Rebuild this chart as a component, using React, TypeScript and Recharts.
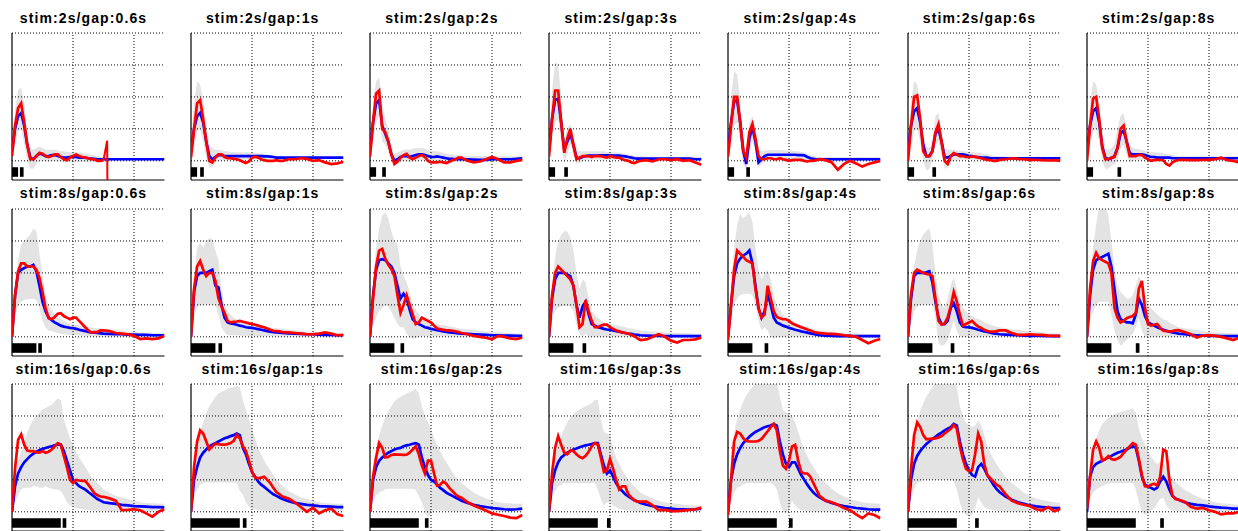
import React from "react";
import { ComposedChart, Line, Area, XAxis, YAxis, ReferenceLine, ReferenceArea } from "recharts";

// time grid (seconds)
const T = [0,1,2,3,4,5,6,7,8,9,10,11,12,13,14,15,16,17,18,19,20,21,22,23,24,25,26,27,28,29,30,32,34,36,38,40,42,44,46,48,50];

const STIMS = [2, 8, 16];
const STIM_LABELS = ["2", "8", "16"];
const GAPS = [0.6, 1, 2, 3, 4, 6, 8];
const GAP_LABELS = ["0.6", "1", "2", "3", "4", "6", "8"];
const PULSE = 1.2;
const X_DOMAIN = [0, 50];
const Y_DOMAIN = [-0.6, 4];
const X_GRID = [20, 40];
const Y_GRID = [0, 1, 2, 3, 4];

// ---------- row 1: stim 2s ----------
const red11 = [0.15,1.1,1.65,1.8,1.2,0.5,0.05,0.05,0.15,0.25,0.22, 0.15,0.12,0.15,0.2,0.2,0.12,0.05,0.02,0.1,0.15, 0.2,0.15,0.12,0.1,0.08,0.05,0.05,0.0,0.0,0.02, null,null,null,null,null,null,null,null,null,null];
const blue11 = [0.3,1.0,1.4,1.5,1.1,0.5,0.1,0.05,0.15,0.22,0.2, 0.15,0.15,0.18,0.18,0.15,0.12,0.1,0.1,0.12,0.13, 0.12,0.1,0.1,0.1,0.08,0.07,0.06,0.05,0.05,0.05, 0.05,0.05,0.05,0.05,0.05,0.05,0.05,0.05,0.05,0.05];
const hi11 = [0.5,1.6,2.2,2.3,1.8,0.9,0.4,0.35,0.4,0.45,0.4, 0.35,0.35,0.35,0.35,0.33,0.3,0.3,0.28,0.28,0.28, 0.28,0.26,0.25,0.24,0.22,0.2,0.18,0.15,0.12,0.1, 0.08,0.08,0.08,0.08,0.08,0.08,0.08,0.08,0.08,0.08];
const lo11 = [0.0,0.5,0.9,1.0,0.5,0.0,-0.25,-0.25,-0.1,0.0,0.0, 0.0,-0.02,0.0,0.0,0.0,-0.02,-0.05,-0.05,-0.03,-0.02, -0.02,-0.03,-0.03,-0.03,-0.03,-0.02,-0.02,-0.02,0.0,0.02, 0.02,0.02,0.02,0.02,0.02,0.02,0.02,0.02,0.02,0.02];
const SPIKE_T = [30, 31.2, 31.3];
const SPIKE_V = [0.02, 0.63, -1.2];

const red12 = [0.1,1.0,1.8,1.9,1.3,0.6,0.0,-0.05,0.1,0.2,0.2, 0.12,0.08,0.08,0.06,0.05,0.02,-0.03,-0.07,-0.02,0.1, 0.13,0.1,0.05,0.02,0.0,0.0,0.0,0.02,0.0,0.0, 0.05,0.05,0.08,0.06,0.0,0.02,-0.05,-0.1,-0.08,-0.03];
const blue12 = [0.3,1.0,1.4,1.5,1.2,0.6,0.15,0.05,0.12,0.18,0.18, 0.15,0.15,0.15,0.15,0.15,0.15,0.15,0.15,0.15,0.15, 0.15,0.15,0.15,0.14,0.14,0.13,0.12,0.1,0.1,0.1, 0.1,0.1,0.1,0.1,0.1,0.1,0.1,0.1,0.1,0.1];
const hi12 = [0.5,1.8,2.5,2.4,1.9,1.1,0.5,0.4,0.35,0.35,0.33, 0.3,0.3,0.28,0.28,0.27,0.27,0.26,0.26,0.25,0.25, 0.25,0.24,0.23,0.22,0.2,0.18,0.16,0.14,0.13,0.13, 0.12,0.12,0.12,0.12,0.12,0.12,0.12,0.12,0.12,0.12];
const lo12 = [0.0,0.4,0.9,1.0,0.6,0.1,-0.2,-0.2,-0.05,0.0,0.02, 0.02,0.02,0.02,0.03,0.03,0.03,0.03,0.03,0.04,0.04, 0.04,0.05,0.05,0.05,0.06,0.06,0.07,0.07,0.07,0.07, 0.07,0.07,0.07,0.07,0.07,0.07,0.07,0.07,0.07,0.07];

const red13 = [0.13,1.2,2.1,2.2,1.0,0.9,0.6,0.2,-0.1,-0.02,0.1, 0.18,0.22,0.1,0.05,0.1,0.15,0.18,0.12,0.0,-0.05, -0.05,-0.05,-0.03,-0.05,-0.07,-0.03,0.02,0.05,0.1,0.1, 0.0,-0.05,-0.02,0.05,0.12,0.05,-0.05,-0.05,0.0,0.03];
const blue13 = [0.3,1.2,1.8,1.9,1.1,0.85,0.6,0.2,0.0,0.05,0.12, 0.15,0.15,0.12,0.15,0.18,0.2,0.2,0.18,0.15,0.12, 0.12,0.14,0.12,0.1,0.08,0.06,0.06,0.05,0.05,0.05, 0.05,0.04,0.03,0.03,0.05,0.05,0.05,0.05,0.06,0.08];
const hi13 = [0.5,1.8,2.5,2.6,1.8,1.3,1.0,0.5,0.2,0.25,0.3, 0.35,0.35,0.35,0.38,0.4,0.4,0.4,0.38,0.35,0.32, 0.3,0.3,0.28,0.25,0.22,0.2,0.2,0.18,0.18,0.17, 0.15,0.15,0.15,0.15,0.15,0.14,0.14,0.14,0.14,0.14];
const lo13 = [0.0,0.6,1.2,1.4,0.6,0.5,0.3,0.0,-0.15,-0.1,-0.05, 0.0,0.0,-0.05,-0.02,0.0,0.0,0.02,0.0,-0.02,-0.03, -0.03,-0.02,-0.02,-0.02,-0.02,-0.02,-0.02,-0.02,-0.02,-0.02, -0.02,-0.02,-0.02,-0.02,-0.02,-0.02,-0.02,-0.02,-0.02,-0.02];

const red14 = [0.13,1.3,2.2,2.2,1.2,0.25,0.7,1.0,0.5,0.05,0.1, 0.15,0.15,0.15,0.12,0.15,0.15,0.15,0.12,0.1,0.15, 0.12,0.1,0.1,0.05,0.02,0.0,-0.05,-0.07,-0.03,0.0, 0.02,-0.02,0.05,0.05,0.02,0.05,0.0,0.02,-0.05,-0.12];
const blue14 = [0.3,1.3,1.9,1.95,1.2,0.35,0.6,0.85,0.5,0.1,0.08, 0.12,0.15,0.16,0.16,0.16,0.16,0.17,0.17,0.17,0.17, 0.16,0.16,0.16,0.15,0.14,0.12,0.1,0.08,0.07,0.07, 0.07,0.07,0.07,0.07,0.07,0.07,0.07,0.07,0.05,0.05];
const hi14 = [0.5,2.2,3.1,3.0,2.0,0.7,1.0,1.15,0.8,0.4,0.3, 0.3,0.3,0.3,0.3,0.3,0.3,0.3,0.3,0.28,0.28, 0.27,0.26,0.25,0.24,0.22,0.2,0.18,0.16,0.15,0.14, 0.13,0.13,0.13,0.13,0.13,0.13,0.13,0.13,0.13,0.13];
const lo14 = [0.0,0.6,1.2,1.3,0.6,-0.1,0.2,0.5,0.2,-0.1,-0.05, 0.0,0.02,0.03,0.03,0.03,0.03,0.03,0.03,0.03,0.03, 0.03,0.03,0.03,0.03,0.03,0.03,0.02,0.01,0.0,0.0, 0.0,0.0,0.0,0.0,0.0,0.0,0.0,0.0,0.0,0.0];

const red15 = [0.13,1.1,2.0,2.0,1.2,0.3,0.1,0.9,1.15,0.7,0.15, 0.05,0.05,0.08,0.08,0.05,0.05,0.08,0.05,0.03,0.0, 0.02,0.03,0.03,0.03,0.0,-0.02,0.0,0.0,0.02,0.05, 0.02,-0.05,-0.28,-0.1,0.0,-0.08,-0.18,-0.1,-0.05,0.0];
const blue15 = [0.3,1.2,1.85,1.9,1.2,0.3,-0.1,0.7,1.05,0.6,-0.05, 0.05,0.15,0.19,0.19,0.19,0.19,0.19,0.19,0.19,0.19, 0.19,0.19,0.18,0.18,0.17,0.12,0.08,0.06,0.05,0.05, 0.05,0.05,0.05,0.05,0.05,0.05,0.05,0.05,0.05,0.05];
const hi15 = [0.5,2.0,2.8,2.7,1.9,0.7,0.3,1.2,1.4,1.0,0.3, 0.3,0.32,0.33,0.33,0.33,0.33,0.33,0.33,0.32,0.32, 0.32,0.3,0.3,0.28,0.26,0.22,0.18,0.15,0.13,0.12, 0.12,0.12,0.12,0.12,0.12,0.12,0.12,0.12,0.12,0.12];
const lo15 = [0.0,0.5,1.1,1.2,0.6,-0.1,-0.3,0.3,0.6,0.3,-0.2, -0.1,0.0,0.05,0.05,0.05,0.05,0.05,0.05,0.05,0.05, 0.05,0.05,0.05,0.05,0.04,0.02,0.0,-0.01,-0.01,-0.01, -0.01,-0.01,-0.01,-0.01,-0.01,-0.01,-0.01,-0.01,-0.01,-0.01];

const red16 = [0.0,1.1,2.0,2.05,1.3,0.3,0.15,0.15,0.3,0.9,1.15, 0.6,0.0,-0.1,0.15,0.24,0.2,0.15,0.15,0.12,0.12, 0.13,0.13,0.1,0.08,0.05,0.03,0.02,0.0,0.0,0.03, 0.05,0.08,0.06,0.05,0.03,0.03,0.02,0.01,0.02,0.0];
const blue16 = [0.3,1.1,1.55,1.65,1.2,0.5,0.15,0.15,0.3,0.85,1.0, 0.6,0.12,0.1,0.15,0.2,0.2,0.2,0.2,0.18,0.15, 0.15,0.12,0.12,0.1,0.1,0.1,0.08,0.08,0.08,0.08, 0.08,0.08,0.08,0.08,0.08,0.08,0.08,0.08,0.08,0.08];
const hi16 = [0.5,1.8,2.5,2.4,1.7,0.8,0.45,0.4,0.6,1.4,1.5, 0.9,0.4,0.35,0.35,0.35,0.33,0.32,0.3,0.3,0.28, 0.28,0.26,0.25,0.24,0.22,0.2,0.18,0.16,0.15,0.14, 0.13,0.13,0.13,0.13,0.13,0.13,0.13,0.13,0.13,0.13];
const lo16 = [0.0,0.4,0.9,1.0,0.6,0.0,-0.3,-0.25,0.0,0.5,0.6, 0.2,-0.25,-0.2,-0.05,0.0,0.02,0.03,0.03,0.03,0.03, 0.03,0.03,0.03,0.03,0.03,0.03,0.03,0.02,0.02,0.02, 0.02,0.02,0.02,0.02,0.02,0.02,0.02,0.02,0.02,0.02];

const red17 = [0.0,1.1,1.95,2.0,1.3,0.4,0.05,0.05,0.1,0.12,0.4, 1.0,1.1,0.6,0.15,0.15,0.15,0.19,0.18,0.1,0.05, 0.0,0.02,0.03,0.03,0.02,-0.1,-0.15,-0.05,0.0,0.03, 0.03,0.02,0.02,0.03,0.03,0.05,0.1,0.02,0.0,-0.05];
const blue17 = [0.3,1.1,1.55,1.65,1.2,0.45,0.1,0.05,0.08,0.15,0.4, 0.85,0.95,0.6,0.25,0.2,0.2,0.2,0.2,0.18,0.15, 0.12,0.12,0.1,0.1,0.1,0.1,0.1,0.08,0.08,0.08, 0.08,0.08,0.08,0.08,0.08,0.08,0.08,0.08,0.08,0.08];
const hi17 = [0.5,1.8,2.5,2.4,1.8,0.9,0.4,0.35,0.4,0.5,1.0, 1.4,1.5,1.0,0.5,0.4,0.38,0.36,0.34,0.32,0.3, 0.28,0.27,0.26,0.25,0.24,0.22,0.2,0.18,0.16,0.15, 0.14,0.14,0.14,0.14,0.14,0.14,0.14,0.14,0.14,0.14];
const lo17 = [0.0,0.4,0.9,1.0,0.6,0.0,-0.25,-0.25,-0.15,-0.1,0.0, 0.4,0.5,0.2,-0.05,0.0,0.02,0.02,0.03,0.03,0.03, 0.03,0.03,0.03,0.03,0.03,0.03,0.03,0.02,0.02,0.02, 0.02,0.02,0.02,0.02,0.02,0.02,0.02,0.02,0.02,0.02];

// ---------- row 2: stim 8s ----------
const red21 = [0.0,1.3,2.05,2.3,2.3,2.2,2.2,2.2,2.1,1.85,1.4, 0.9,0.58,0.55,0.62,0.72,0.74,0.65,0.6,0.55,0.6, 0.6,0.5,0.4,0.3,0.2,0.13,0.15,0.15,0.2,0.2, 0.18,0.12,0.1,0.08,0.03,-0.07,-0.05,-0.07,-0.05,0.03];
const blue21 = [0.0,1.3,2.0,2.1,2.15,2.2,2.2,2.25,2.05,1.6,1.1, 0.8,0.6,0.52,0.45,0.4,0.35,0.32,0.3,0.28,0.27, 0.25,0.22,0.2,0.18,0.15,0.14,0.13,0.12,0.11,0.1, 0.09,0.08,0.08,0.07,0.07,0.06,0.06,0.05,0.05,0.05];
const hi21 = [0.1,1.6,2.4,2.9,3.0,3.1,3.2,3.4,3.3,2.6,1.9, 1.3,1.0,0.85,0.7,0.62,0.55,0.5,0.45,0.42,0.4, 0.38,0.36,0.34,0.32,0.3,0.29,0.28,0.27,0.26,0.25, 0.23,0.21,0.19,0.17,0.15,0.14,0.13,0.13,0.12,0.12];
const lo21 = [0.0,0.6,1.0,1.1,1.15,1.18,1.18,1.18,1.15,0.9,0.5, 0.3,0.2,0.18,0.15,0.12,0.1,0.08,0.07,0.06,0.05, 0.05,0.04,0.03,0.03,0.02,0.02,0.01,0.01,0.0,0.0, 0.0,0.0,0.0,-0.01,-0.01,-0.01,-0.02,-0.02,-0.02,-0.02];

const red22 = [0.0,1.5,2.2,2.37,2.1,1.9,2.0,2.0,1.75,1.2,0.95, 0.75,0.5,0.45,0.47,0.48,0.5,0.47,0.45,0.42,0.4, 0.38,0.35,0.32,0.3,0.26,0.22,0.19,0.18,0.17,0.15, 0.14,0.12,0.1,0.08,0.08,0.1,0.14,0.1,0.05,0.06];
const blue22 = [0.0,1.4,1.9,2.0,2.0,2.0,2.05,2.1,1.6,1.55,1.0, 0.6,0.45,0.42,0.4,0.38,0.35,0.33,0.3,0.29,0.28, 0.26,0.24,0.22,0.2,0.18,0.16,0.15,0.14,0.13,0.12, 0.11,0.1,0.09,0.08,0.08,0.07,0.06,0.06,0.05,0.05];
const hi22 = [0.2,1.7,2.8,2.95,2.8,3.0,3.1,3.05,2.7,2.4,1.5, 1.0,0.8,0.7,0.6,0.55,0.5,0.47,0.44,0.42,0.4, 0.38,0.36,0.34,0.32,0.3,0.29,0.28,0.27,0.26,0.25, 0.23,0.21,0.19,0.17,0.15,0.14,0.13,0.12,0.11,0.1];
const lo22 = [0.0,0.6,0.9,1.0,1.0,1.0,1.0,1.0,1.0,0.7,0.3, 0.15,0.05,0.05,0.05,0.05,0.04,0.03,0.03,0.02,0.02, 0.02,0.02,0.02,0.02,0.02,0.02,0.02,0.01,0.01,0.01, 0.0,0.0,0.0,0.0,0.0,0.0,0.0,0.0,0.0,0.0];

const red23 = [0.0,1.2,2.2,2.7,2.75,2.45,2.25,2.12,1.9,1.3,0.75, 1.0,1.3,1.0,0.7,0.4,0.45,0.6,0.55,0.5,0.45, 0.35,0.26,0.24,0.22,0.2,0.2,0.19,0.17,0.15,0.12, 0.08,0.03,0.0,-0.03,-0.08,0.03,0.0,-0.05,-0.07,-0.02];
const blue23 = [0.0,1.3,2.1,2.4,2.43,2.4,2.3,2.2,2.0,1.6,1.2, 1.35,1.2,0.85,0.55,0.45,0.4,0.35,0.3,0.28,0.25, 0.23,0.21,0.19,0.17,0.15,0.14,0.13,0.12,0.11,0.1, 0.09,0.08,0.07,0.06,0.05,0.05,0.04,0.04,0.03,0.03];
const hi23 = [0.2,1.7,2.8,3.4,3.8,3.9,3.7,3.3,3.0,2.9,2.2, 1.9,1.7,1.4,1.0,0.85,0.7,0.62,0.55,0.5,0.45, 0.42,0.4,0.38,0.36,0.35,0.33,0.31,0.29,0.27,0.25, 0.23,0.21,0.19,0.17,0.15,0.14,0.13,0.12,0.11,0.1];
const lo23 = [0.0,0.3,0.6,0.8,0.9,1.0,0.95,0.8,0.6,0.4,0.3, 0.3,0.1,0.0,-0.05,-0.05,0.0,0.02,0.02,0.02,0.02, 0.02,0.02,0.02,0.01,0.01,0.01,0.01,0.0,0.0,0.0, 0.0,0.0,0.0,0.0,0.0,0.0,0.0,0.0,0.0,0.0];

const red24 = [0.0,1.3,2.0,2.2,2.1,2.0,1.9,1.8,1.6,1.0,0.3, 0.4,1.15,0.8,0.5,0.3,0.3,0.35,0.38,0.38,0.3, 0.25,0.2,0.17,0.14,0.12,0.1,0.06,0.02,-0.05,-0.1, -0.08,0.0,0.08,0.0,-0.12,-0.18,-0.1,-0.1,-0.08,-0.02];
const blue24 = [0.0,1.2,1.8,2.0,2.0,2.0,1.95,1.9,1.6,1.0,0.6, 0.95,1.1,0.7,0.4,0.35,0.3,0.28,0.25,0.23,0.22, 0.2,0.18,0.16,0.14,0.12,0.1,0.09,0.07,0.06,0.05, 0.04,0.03,0.03,0.02,0.02,0.02,0.02,0.02,0.02,0.02];
const hi24 = [0.2,1.5,2.5,3.0,3.2,3.3,3.3,3.1,2.7,2.0,1.5, 1.8,1.7,1.2,0.8,0.7,0.6,0.52,0.45,0.42,0.4, 0.38,0.36,0.34,0.32,0.3,0.28,0.26,0.24,0.22,0.2, 0.18,0.16,0.15,0.14,0.12,0.12,0.11,0.11,0.1,0.1];
const lo24 = [0.0,0.5,0.8,0.9,0.95,0.97,0.97,0.95,0.8,0.4,0.1, 0.0,0.1,0.0,0.0,0.0,0.0,0.0,0.0,0.0,0.0, 0.0,0.0,0.0,0.0,0.0,0.0,0.0,0.0,0.0,0.0, -0.01,-0.01,-0.01,-0.01,-0.01,-0.01,-0.01,-0.01,-0.01,-0.01];

const red25 = [-0.1,1.0,2.1,2.7,2.6,2.5,2.4,2.35,2.3,1.5,0.9, 0.6,0.7,1.6,1.2,0.8,0.62,0.58,0.55,0.55,0.5, 0.42,0.38,0.34,0.3,0.27,0.23,0.2,0.16,0.13,0.12, 0.1,0.09,0.08,0.05,0.03,0.0,-0.1,-0.2,-0.12,-0.07];
const blue25 = [0.0,1.0,1.9,2.3,2.45,2.55,2.6,2.7,2.3,1.6,0.9, 0.6,0.8,1.35,1.0,0.6,0.45,0.4,0.35,0.32,0.28, 0.25,0.22,0.2,0.17,0.15,0.13,0.11,0.09,0.07,0.05, 0.04,0.03,0.02,0.02,0.02,0.02,0.02,0.02,0.02,0.02];
const hi25 = [0.2,1.6,2.8,3.5,3.85,3.7,3.8,3.9,3.6,2.8,2.1, 1.8,2.0,2.1,1.8,1.3,1.0,0.85,0.7,0.62,0.55, 0.5,0.46,0.42,0.38,0.35,0.32,0.28,0.25,0.22,0.2, 0.18,0.16,0.14,0.13,0.12,0.11,0.1,0.09,0.08,0.08];
const lo25 = [0.0,0.5,1.0,1.2,1.3,1.35,1.35,1.35,1.3,1.0,0.5, 0.2,0.3,0.2,0.0,-0.05,0.0,0.0,0.0,0.0,0.0, 0.0,0.0,0.0,0.0,0.0,0.0,0.0,0.0,0.0,0.0, -0.01,-0.01,-0.01,-0.01,-0.01,-0.01,-0.01,-0.01,-0.01,-0.01];

const red26 = [0.0,1.35,2.0,2.1,2.05,2.0,1.97,1.95,1.9,1.2,0.5, 0.38,0.42,0.6,0.95,1.4,1.1,0.7,0.35,0.4,0.45, 0.5,0.4,0.32,0.28,0.22,0.18,0.16,0.16,0.18,0.2, 0.2,0.12,0.06,0.06,0.08,0.06,0.06,0.04,0.03,0.03];
const blue26 = [0.0,1.2,1.9,2.0,2.0,2.0,2.02,2.05,1.7,1.1,0.6, 0.4,0.4,0.5,0.9,1.05,0.8,0.45,0.32,0.3,0.3, 0.28,0.25,0.22,0.2,0.17,0.15,0.13,0.11,0.1,0.08, 0.07,0.06,0.05,0.04,0.03,0.03,0.03,0.02,0.02,0.02];
const hi26 = [0.2,1.4,2.2,2.7,3.0,3.2,3.3,3.4,2.9,2.0,1.3, 1.0,0.9,1.2,1.6,1.85,1.5,1.1,0.9,0.8,0.7, 0.65,0.6,0.56,0.52,0.45,0.42,0.38,0.35,0.32,0.3, 0.27,0.24,0.22,0.2,0.18,0.16,0.14,0.12,0.11,0.1];
const lo26 = [0.0,0.4,0.8,0.95,1.0,1.0,1.0,1.0,1.0,0.6,-0.2, -0.28,-0.25,-0.1,0.2,0.5,0.2,0.0,0.0,0.0,0.0, 0.0,0.0,0.0,0.0,0.0,0.0,0.0,0.0,0.0,0.0, 0.0,0.0,0.0,0.0,0.0,0.0,0.0,0.0,0.0,0.0];

const red27 = [0.0,1.5,2.37,2.63,2.45,2.4,2.35,2.3,2.0,0.9,0.6, 0.45,0.5,0.58,0.62,0.65,0.75,1.5,1.75,0.9,0.4, 0.35,0.38,0.4,0.28,0.19,0.18,0.17,0.18,0.2,0.21, 0.15,0.08,-0.02,0.04,0.05,0.03,0.0,-0.05,-0.1,-0.02];
const blue27 = [0.0,1.3,2.1,2.4,2.45,2.5,2.55,2.6,2.2,1.5,0.8, 0.55,0.5,0.45,0.45,0.42,0.7,1.2,1.0,0.65,0.45, 0.4,0.35,0.3,0.26,0.22,0.19,0.16,0.14,0.12,0.1, 0.08,0.06,0.05,0.04,0.03,0.03,0.02,0.02,0.02,0.02];
const hi27 = [0.2,1.7,2.8,3.5,4.1,4.2,4.1,3.8,3.0,2.2,1.6, 1.4,1.3,1.2,1.2,1.3,1.6,1.9,1.7,1.3,1.0, 0.9,0.8,0.7,0.62,0.55,0.5,0.45,0.4,0.35,0.3, 0.27,0.24,0.21,0.18,0.15,0.14,0.13,0.12,0.11,0.1];
const lo27 = [0.0,0.5,0.8,1.0,1.1,1.1,1.1,1.1,0.7,0.2,-0.1, -0.28,-0.2,-0.1,0.0,0.1,0.3,0.6,0.2,0.0,0.0, 0.0,0.0,0.0,0.0,0.0,0.0,0.0,0.0,0.0,0.0, 0.0,0.0,0.0,0.0,0.0,0.0,0.0,0.0,0.0,0.0];

// ---------- row 3: stim 16s ----------
const red31 = [0.0,1.35,2.25,2.42,2.1,1.92,1.9,1.9,1.86,1.85,1.9, 1.85,1.88,1.95,2.05,2.15,2.1,1.75,1.4,1.0,0.9, 1.0,0.98,0.97,0.97,0.85,0.72,0.58,0.52,0.48,0.47, 0.42,0.35,0.05,0.06,0.08,0.05,-0.05,-0.15,0.0,0.08];
const blue31 = [0.0,0.8,1.2,1.4,1.55,1.65,1.75,1.82,1.88,1.93,1.97, 2.0,2.03,2.05,2.08,2.1,2.1,1.9,1.6,1.3,1.0, 0.9,0.8,0.75,0.7,0.62,0.55,0.47,0.4,0.35,0.3, 0.27,0.25,0.22,0.2,0.18,0.17,0.16,0.15,0.15,0.14];
const hi31 = [0.1,1.2,1.6,1.9,2.2,2.5,2.7,2.9,3.0,3.1,3.2, 3.25,3.3,3.35,3.45,3.55,3.5,2.9,2.6,2.3,2.1, 1.9,1.7,1.55,1.4,1.25,1.1,1.0,0.9,0.8,0.7, 0.6,0.5,0.45,0.4,0.35,0.3,0.28,0.27,0.26,0.25];
const lo31 = [0.0,0.3,0.5,0.7,0.75,0.75,0.75,0.8,0.8,0.75,0.75, 0.8,0.75,0.72,0.7,0.7,0.65,0.5,0.3,0.2,0.15, 0.12,0.1,0.08,0.07,0.05,0.04,0.03,0.03,0.02,0.02, 0.0,0.0,0.0,0.0,0.0,0.0,0.0,0.0,0.0,0.0];

const red32 = [0.0,1.4,2.2,2.55,2.45,2.2,1.95,2.05,2.13,2.12,2.1, 2.1,2.12,2.15,2.22,2.4,2.3,2.05,1.9,1.6,1.25, 1.08,1.05,1.07,1.1,1.0,0.9,0.75,0.62,0.55,0.48, 0.42,0.3,0.15,0.0,0.13,-0.05,0.05,0.1,-0.08,-0.13];
const blue32 = [0.0,1.0,1.4,1.7,1.85,1.95,2.05,2.1,2.15,2.2,2.25, 2.3,2.33,2.37,2.4,2.45,2.4,2.0,1.8,1.5,1.25, 1.1,0.95,0.85,0.78,0.7,0.62,0.55,0.5,0.45,0.4, 0.33,0.28,0.25,0.22,0.2,0.18,0.17,0.16,0.15,0.15];
const hi32 = [0.2,1.5,2.1,2.5,2.8,3.1,3.3,3.45,3.6,3.7,3.75, 3.8,3.85,3.9,3.9,3.95,3.9,3.5,3.2,2.9,2.6, 2.3,2.0,1.8,1.6,1.45,1.3,1.15,1.0,0.9,0.8, 0.65,0.55,0.45,0.4,0.35,0.3,0.28,0.26,0.25,0.25];
const lo32 = [0.0,0.4,0.7,0.85,0.9,0.92,0.92,0.92,0.92,0.92,0.92, 0.92,0.92,0.92,0.92,0.92,0.65,0.55,0.3,0.15,0.1, 0.08,0.05,0.04,0.03,0.02,0.02,0.01,0.01,0.0,0.0, 0.0,0.0,0.0,0.0,0.0,0.0,0.0,0.0,0.0,0.0];

const red33 = [0.0,1.1,1.7,2.15,2.0,1.7,1.72,1.78,1.8,1.79,1.79, 1.78,1.79,1.85,1.95,2.05,1.8,1.45,1.2,1.6,1.6, 1.2,0.82,0.85,0.95,0.88,0.75,0.65,0.55,0.48,0.44, 0.3,0.2,0.12,0.04,-0.05,-0.09,-0.13,-0.18,-0.2,-0.1];
const blue33 = [0.0,1.0,1.4,1.6,1.7,1.78,1.85,1.9,1.95,1.98,2.0, 2.05,2.08,2.1,2.13,2.15,2.1,1.7,1.4,1.15,1.0, 0.95,0.85,0.75,0.68,0.6,0.55,0.5,0.45,0.4,0.35, 0.28,0.22,0.18,0.15,0.12,0.1,0.08,0.07,0.08,0.1];
const hi33 = [0.2,1.4,2.0,2.4,2.7,2.95,3.15,3.3,3.45,3.55,3.6, 3.65,3.7,3.75,3.8,3.85,3.7,3.3,3.0,2.8,2.6, 2.3,2.1,1.9,1.7,1.55,1.4,1.25,1.1,1.0,0.9, 0.75,0.6,0.5,0.42,0.36,0.3,0.28,0.26,0.25,0.25];
const lo33 = [0.0,0.3,0.5,0.6,0.65,0.7,0.72,0.72,0.72,0.72,0.72, 0.72,0.72,0.72,0.72,0.68,0.5,0.3,0.0,-0.15,-0.05, 0.05,0.05,0.04,0.03,0.02,0.02,0.01,0.01,0.0,0.0, 0.0,0.0,0.0,0.0,0.0,0.0,0.0,0.0,0.0,0.0];

const red34 = [0.0,1.2,2.0,2.37,2.1,1.85,1.8,1.92,1.9,1.8,1.72, 1.68,1.75,1.88,2.05,2.15,2.1,1.7,1.25,1.3,1.65, 1.35,1.0,0.7,0.8,0.8,0.55,0.45,0.36,0.32,0.32, 0.32,0.2,0.05,0.06,0.02,0.02,0.04,0.06,0.08,0.13];
const blue34 = [0.0,0.9,1.3,1.55,1.7,1.78,1.85,1.9,1.95,1.98,2.02, 2.05,2.08,2.1,2.12,2.15,2.15,1.8,1.45,1.2,1.3, 1.1,0.9,0.75,0.65,0.55,0.48,0.42,0.36,0.32,0.28, 0.22,0.18,0.15,0.12,0.1,0.08,0.08,0.07,0.08,0.1];
const hi34 = [0.2,1.2,1.8,2.1,2.4,2.6,2.8,2.95,3.05,3.15,3.2, 3.25,3.3,3.35,3.4,3.5,3.5,2.9,2.5,2.45,2.4, 2.0,1.7,1.5,1.3,1.15,1.0,0.9,0.8,0.7,0.6, 0.5,0.42,0.35,0.3,0.27,0.25,0.22,0.2,0.2,0.2];
const lo34 = [0.0,0.4,0.65,0.8,0.85,0.9,0.9,0.9,0.9,0.9,0.9, 0.9,0.9,0.9,0.9,0.9,0.7,0.4,0.2,0.3,0.3, 0.2,0.15,0.1,0.08,0.05,0.04,0.03,0.02,0.01,0.0, 0.0,0.0,0.0,0.0,0.0,0.0,0.0,0.0,0.0,0.0];

const red35 = [-0.1,1.0,2.2,2.5,2.45,2.3,2.22,2.2,2.2,2.2,2.22, 2.28,2.4,2.52,2.65,2.75,2.55,1.9,1.45,1.35,1.6, 2.05,2.1,1.6,1.25,1.2,1.2,1.1,0.9,0.7,0.5, 0.35,0.3,0.22,0.12,0.05,-0.08,-0.2,-0.05,-0.1,-0.2];
const blue35 = [0.0,1.0,1.5,1.8,2.0,2.15,2.25,2.35,2.43,2.5,2.55, 2.6,2.65,2.68,2.7,2.75,2.7,2.2,1.8,1.5,1.4, 1.55,1.55,1.35,1.15,1.0,0.85,0.72,0.6,0.52,0.45, 0.35,0.28,0.22,0.18,0.15,0.12,0.1,0.08,0.07,0.07];
const hi35 = [0.2,1.8,2.5,2.9,3.2,3.45,3.65,3.8,3.9,4.1,4.1, 4.1,4.1,4.1,4.1,4.1,4.1,3.6,3.2,3.1,3.1, 3.0,2.8,2.5,2.2,1.95,1.75,1.55,1.4,1.25,1.1, 0.9,0.72,0.58,0.48,0.4,0.35,0.3,0.28,0.26,0.25];
const lo35 = [0.0,0.3,0.6,0.75,0.8,0.85,0.9,0.9,0.9,0.9,0.9, 0.9,0.9,0.9,0.9,0.85,0.7,0.3,0.0,-0.05,0.05, 0.35,0.2,0.1,0.05,0.03,0.02,0.02,0.01,0.0,0.0, 0.0,0.0,0.0,0.0,0.0,0.0,0.0,0.0,0.0,0.0];

const red36 = [0.0,1.35,2.4,2.8,2.65,2.4,2.27,2.28,2.29,2.3,2.33, 2.37,2.45,2.52,2.6,2.72,2.6,2.05,1.65,1.35,1.27, 1.3,1.8,2.45,2.2,1.5,1.15,1.05,0.95,0.85,0.8, 0.55,0.35,0.27,0.22,0.18,0.08,0.05,0.15,0.02,0.1];
const blue36 = [0.0,1.0,1.5,1.75,1.9,2.02,2.12,2.2,2.28,2.35,2.42, 2.48,2.55,2.6,2.65,2.75,2.7,2.2,1.8,1.5,1.3, 1.15,1.1,1.4,1.5,1.35,1.15,1.0,0.85,0.72,0.62, 0.48,0.38,0.3,0.25,0.2,0.17,0.15,0.13,0.12,0.12];
const hi36 = [0.2,1.7,2.4,2.8,3.15,3.4,3.6,3.75,3.9,4.1,4.1, 4.1,4.1,4.1,4.1,4.1,3.9,3.3,3.0,2.8,2.7, 2.65,2.7,2.85,2.7,2.4,2.1,1.85,1.65,1.5,1.35, 1.1,0.9,0.75,0.6,0.5,0.42,0.37,0.33,0.3,0.28];
const lo36 = [0.0,0.4,0.7,0.9,0.95,1.0,1.0,1.0,1.0,1.0,1.0, 1.0,1.0,1.0,1.0,0.95,0.7,0.3,0.0,-0.1,-0.15, -0.1,0.1,0.45,0.3,0.15,0.1,0.07,0.05,0.03,0.02, 0.0,0.0,0.0,0.0,0.0,0.0,0.0,0.0,0.0,0.0];

const red37 = [0.1,1.1,1.95,2.2,2.0,1.6,1.65,1.74,1.65,1.63,1.67, 1.72,1.84,1.95,2.05,2.15,2.1,1.65,1.15,0.8,0.79, 0.85,0.88,0.82,1.1,1.95,1.9,1.0,0.5,0.4,0.38, 0.32,0.16,0.1,0.12,0.05,0.0,-0.08,-0.05,-0.05,0.0];
const blue37 = [0.0,1.1,1.4,1.5,1.55,1.6,1.65,1.7,1.75,1.8,1.85, 1.88,1.92,1.95,2.0,2.05,2.0,1.6,1.1,0.85,0.8, 0.75,0.7,0.75,0.95,1.1,0.95,0.7,0.5,0.42,0.38, 0.3,0.25,0.22,0.2,0.17,0.15,0.13,0.12,0.1,0.1];
const hi37 = [0.2,1.5,2.0,2.3,2.55,2.75,2.85,2.95,3.0,3.05,3.1, 3.12,3.15,3.18,3.2,3.24,3.1,2.6,2.3,2.1,1.9, 1.75,1.6,1.5,1.55,1.5,1.4,1.2,1.05,0.95,0.85, 0.7,0.58,0.48,0.4,0.35,0.3,0.27,0.25,0.24,0.22];
const lo37 = [0.0,0.4,0.6,0.7,0.75,0.8,0.85,0.88,0.9,0.9,0.9, 0.9,0.9,0.9,0.9,0.9,0.7,0.3,0.0,-0.1,-0.05, 0.05,0.1,0.25,0.4,0.45,0.2,0.1,0.05,0.03,0.02, 0.0,0.0,0.0,0.0,0.0,0.0,0.0,0.0,0.0,0.0];

type Series = { r: (number | null)[]; b: number[]; l: number[]; u: number[] };

const PANELS: Series[][] = [
  [
    { r: red11, b: blue11, l: lo11, u: hi11 },
    { r: red12, b: blue12, l: lo12, u: hi12 },
    { r: red13, b: blue13, l: lo13, u: hi13 },
    { r: red14, b: blue14, l: lo14, u: hi14 },
    { r: red15, b: blue15, l: lo15, u: hi15 },
    { r: red16, b: blue16, l: lo16, u: hi16 },
    { r: red17, b: blue17, l: lo17, u: hi17 },
  ],
  [
    { r: red21, b: blue21, l: lo21, u: hi21 },
    { r: red22, b: blue22, l: lo22, u: hi22 },
    { r: red23, b: blue23, l: lo23, u: hi23 },
    { r: red24, b: blue24, l: lo24, u: hi24 },
    { r: red25, b: blue25, l: lo25, u: hi25 },
    { r: red26, b: blue26, l: lo26, u: hi26 },
    { r: red27, b: blue27, l: lo27, u: hi27 },
  ],
  [
    { r: red31, b: blue31, l: lo31, u: hi31 },
    { r: red32, b: blue32, l: lo32, u: hi32 },
    { r: red33, b: blue33, l: lo33, u: hi33 },
    { r: red34, b: blue34, l: lo34, u: hi34 },
    { r: red35, b: blue35, l: lo35, u: hi35 },
    { r: red36, b: blue36, l: lo36, u: hi36 },
    { r: red37, b: blue37, l: lo37, u: hi37 },
  ],
];

const PLOT_W = 152.5;
const PLOT_H = 147;
const PAD = 2;
const colLeft = (c: number) => 11.5 + 179.2 * c;
const rowTop = (r: number) => 33 + 175.6 * r;

function Panel({ row, col }: { row: number; col: number }) {
  const p = PANELS[row][col];
  const data = T.map((t, i) => ({ t, r: p.r[i], b: p.b[i], band: [p.l[i], p.u[i]] }));
  const stim = STIMS[row];
  const gap = GAPS[col];
  const spike = row === 0 && col === 0 ? SPIKE_T.map((t, i) => ({ t, v: SPIKE_V[i] })) : null;
  return (
    <div style={{ position: "absolute", left: colLeft(col) - PAD, top: rowTop(row) - PAD }}>
      <ComposedChart
        width={PLOT_W + 2 * PAD}
        height={PLOT_H + 2 * PAD}
        data={data}
        margin={{ top: PAD, right: PAD, bottom: PAD, left: PAD }}
      >
        <XAxis
          type="number"
          dataKey="t"
          domain={X_DOMAIN}
          ticks={[0, 20, 40]}
          tick={false}
          tickLine={false}
          axisLine={false}
          height={0}
          allowDataOverflow
        />
        <YAxis
          type="number"
          domain={Y_DOMAIN}
          ticks={Y_GRID}
          tick={false}
          tickLine={false}
          axisLine={false}
          width={0}
          allowDataOverflow
        />
        <Area
          type="linear"
          dataKey="band"
          fill="#e3e3e3"
          fillOpacity={1}
          stroke="none"
          isAnimationActive={false}
          dot={false}
          activeDot={false}
        />
        {Y_GRID.map((y) => (
          <ReferenceLine key={`h${y}`} y={y} stroke="#000" strokeWidth={1} strokeDasharray="1 2" zIndex={150} />
        ))}
        {X_GRID.map((x) => (
          <ReferenceLine key={`v${x}`} x={x} stroke="#000" strokeWidth={1} strokeDasharray="1 2" zIndex={150} />
        ))}
        <ReferenceLine x={X_DOMAIN[0]} stroke="#000" strokeWidth={1.2} />
        <ReferenceLine y={Y_DOMAIN[0]} stroke="#000" strokeWidth={1.2} />
        <ReferenceArea x1={0} x2={stim} y1={-0.5} y2={-0.2} fill="#000" fillOpacity={1} stroke="none" ifOverflow="visible" />
        <ReferenceArea x1={stim + gap} x2={stim + gap + PULSE} y1={-0.5} y2={-0.2} fill="#000" fillOpacity={1} stroke="none" ifOverflow="visible" />
        <Line type="linear" dataKey="b" stroke="#0000ff" strokeWidth={2.7} dot={false} activeDot={false} isAnimationActive={false} />
        <Line type="linear" dataKey="r" stroke="#ff0000" strokeWidth={2.7} dot={false} activeDot={false} isAnimationActive={false} />
        {spike && (
          <Line type="linear" data={spike} dataKey="v" stroke="#ff0000" strokeWidth={2} dot={false} activeDot={false} isAnimationActive={false} />
        )}
      </ComposedChart>
    </div>
  );
}

export default function App() {
  const rows = [0, 1, 2];
  const cols = [0, 1, 2, 3, 4, 5, 6];
  return (
    <div style={{ position: "absolute", left: 0, top: 0, width: 1238, height: 531, background: "#fff", overflow: "hidden" }}>
      {rows.map((r) => cols.map((c) => <Panel key={`${r}-${c}`} row={r} col={c} />))}
      <svg width={1238} height={531} style={{ position: "absolute", left: 0, top: 0, pointerEvents: "none" }}>
        {rows.map((r) =>
          cols.map((c) => (
            <text
              key={`t-${r}-${c}`}
              x={colLeft(c) + 72}
              y={rowTop(r) - 10.5}
              textAnchor="middle"
              fontFamily="'Liberation Sans', Arial, sans-serif"
              fontWeight="bold"
              fontSize={14}
              letterSpacing={1.1}
              fill="#000"
            >
              {`stim:${STIM_LABELS[r]}s/gap:${GAP_LABELS[c]}s`}
            </text>
          ))
        )}
      </svg>
    </div>
  );
}
